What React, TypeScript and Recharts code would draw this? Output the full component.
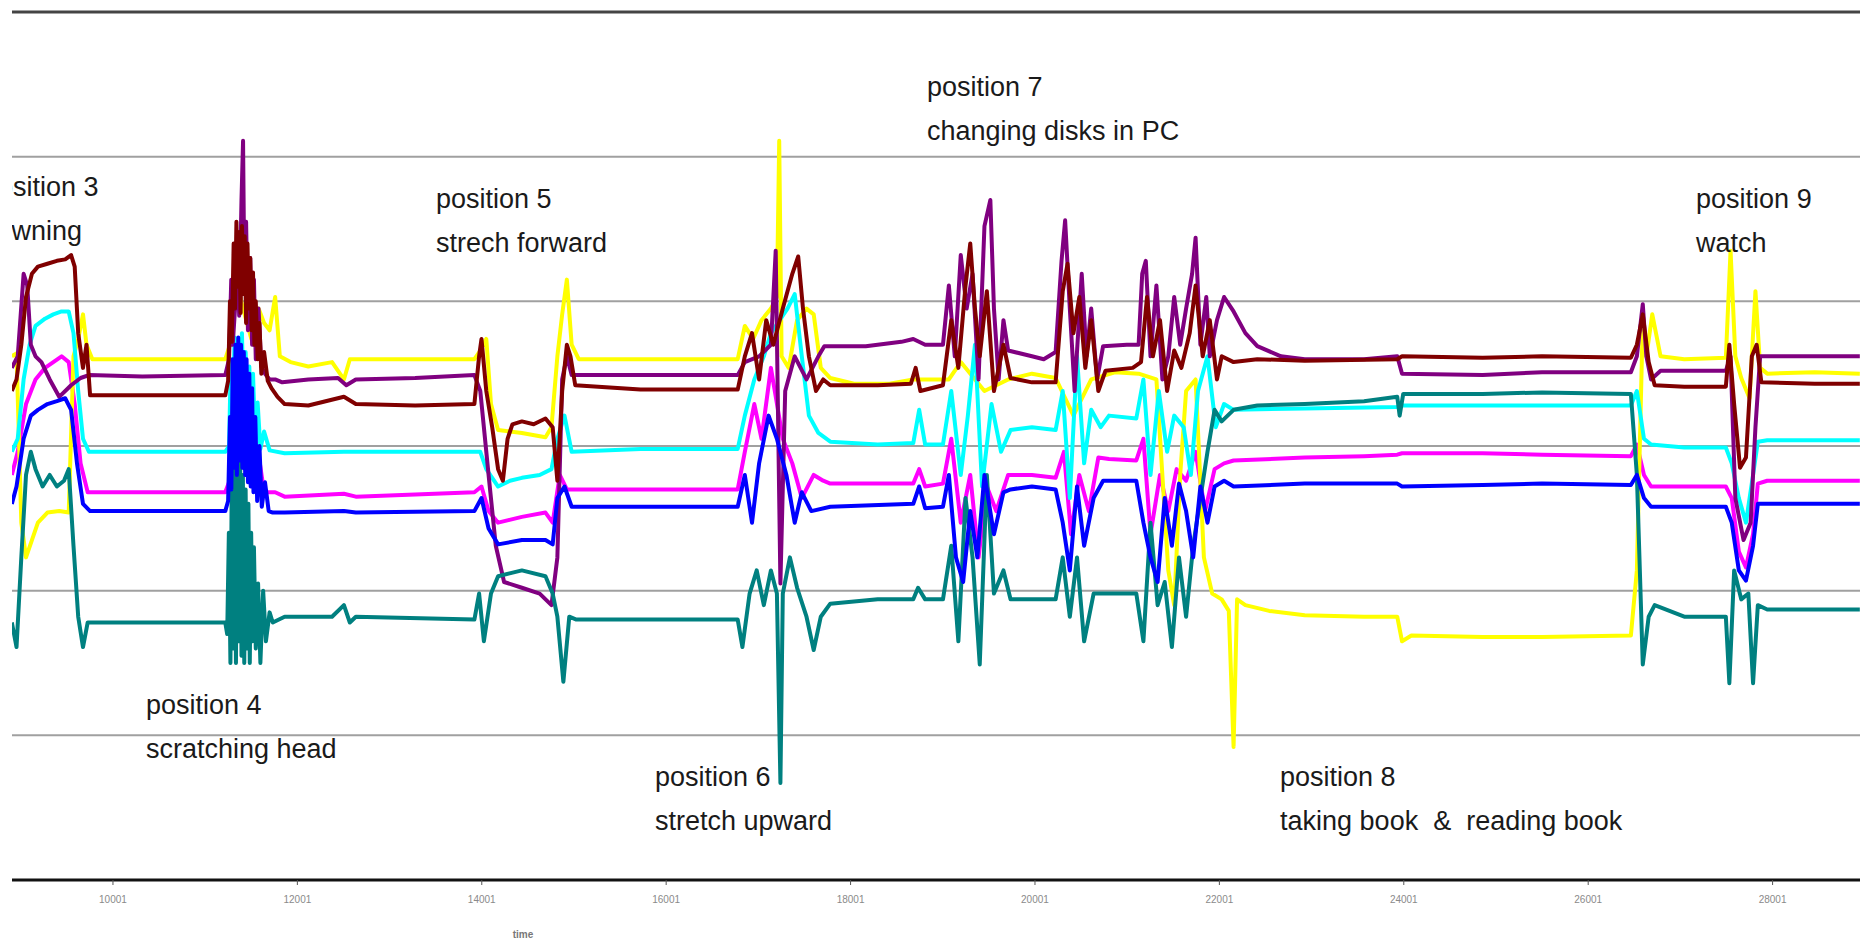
import { LineChart, Line, XAxis, YAxis, ReferenceLine, ReferenceDot } from "recharts";

type Pt = [number, number];

// sample index (time) vs sensor reading
const yellow: Pt[] = [
  [8904, 362], [8955, 364], [9007, 247], [9058, 223], [9122, 235], [9187, 247], [9290, 254], [9418, 255], [9521, 254],
  [9573, 362], [9624, 374], [9676, 391], [9714, 370], [9778, 360], [10319, 360], [11219, 360], [11271, 370], [11348, 411],
  [11412, 395], [11502, 374], [11580, 395], [11640, 385], [11700, 380], [11760, 403], [11811, 362], [11927, 358], [12120, 355],
  [12377, 358], [12506, 346], [12570, 360], [13020, 360], [13406, 360], [13921, 360], [13985, 366], [14050, 374], [14101, 329],
  [14178, 311], [14436, 309], [14692, 306], [14757, 313], [14821, 362], [14873, 391], [14924, 415], [14976, 370], [15053, 360],
  [15722, 360], [16494, 360], [16777, 360], [16854, 383], [16944, 374], [17035, 387], [17137, 395], [17202, 403], [17227, 511],
  [17253, 362], [17330, 354], [17421, 387], [17523, 395], [17601, 391], [17678, 354], [17781, 347], [18038, 343], [18424, 343],
  [18681, 346], [19067, 346], [19196, 358], [19453, 338], [19710, 346], [19968, 350], [20225, 347], [20418, 321], [20611, 346],
  [20868, 351], [21125, 350], [21318, 346], [21447, 214], [21511, 190], [21576, 280], [21640, 338], [21743, 346], [21833, 223],
  [21923, 198], [22026, 194], [22103, 186], [22155, 92], [22193, 194], [22283, 190], [22541, 186], [22927, 183], [23570, 182],
  [23930, 182], [23982, 165], [24084, 169], [24856, 168], [25500, 168], [26464, 169], [26529, 214], [26593, 387], [26632, 362],
  [26696, 391], [26786, 362], [27043, 360], [27494, 361], [27545, 435], [27597, 362], [27661, 347], [27751, 333], [27815, 407],
  [27866, 354], [27943, 350], [28458, 351], [28947, 350],
];

const purple: Pt[] = [
  [8904, 354], [8968, 362], [9032, 419], [9071, 411], [9110, 370], [9161, 362], [9225, 358], [9315, 346], [9418, 334],
  [9547, 342], [9650, 347], [9740, 349], [10319, 348], [11219, 349], [11260, 360], [11284, 415], [11300, 370], [11330, 400],
  [11350, 440], [11370, 390], [11395, 470], [11412, 511], [11425, 420], [11445, 455], [11465, 380], [11490, 430], [11510, 370],
  [11530, 415], [11550, 360], [11580, 395], [11610, 355], [11650, 350], [11700, 346], [11760, 346], [11837, 344], [12120, 346],
  [12442, 347], [12532, 342], [12635, 346], [13278, 347], [13921, 349], [13985, 338], [14075, 280], [14153, 231], [14243, 206],
  [14436, 202], [14629, 198], [14757, 190], [14821, 223], [14873, 346], [14924, 362], [14976, 349], [15722, 349], [16777, 349],
  [16854, 358], [17009, 362], [17137, 370], [17189, 435], [17240, 205], [17292, 338], [17395, 362], [17523, 346], [17652, 362],
  [17716, 369], [17845, 369], [18166, 369], [18552, 372], [18681, 374], [18810, 370], [19003, 370], [19067, 411], [19131, 362],
  [19196, 432], [19260, 395], [19324, 419], [19389, 346], [19453, 452], [19517, 470], [19556, 395], [19607, 346], [19659, 387],
  [19710, 366], [19968, 362], [20096, 360], [20225, 365], [20289, 428], [20328, 456], [20379, 395], [20431, 338], [20508, 419],
  [20560, 362], [20611, 395], [20675, 346], [20740, 369], [20997, 370], [21125, 370], [21164, 419], [21203, 428], [21254, 362],
  [21318, 411], [21383, 346], [21447, 362], [21511, 403], [21576, 370], [21640, 395], [21705, 419], [21743, 444], [21795, 370],
  [21859, 403], [21897, 362], [21975, 387], [22052, 403], [22155, 393], [22283, 378], [22412, 369], [22669, 362], [22927, 360],
  [23570, 360], [23930, 362], [23982, 350], [24856, 349], [25500, 351], [26464, 351], [26529, 362], [26593, 398], [26632, 362],
  [26683, 346], [26786, 352], [27494, 352], [27545, 362], [27597, 264], [27686, 235], [27763, 247], [27815, 313], [27866, 362],
  [27943, 362], [28458, 362], [28947, 362],
];

const maroon: Pt[] = [
  [8904, 338], [8955, 346], [9007, 370], [9058, 403], [9122, 419], [9187, 424], [9290, 426], [9393, 428], [9483, 429],
  [9547, 432], [9586, 424], [9624, 378], [9676, 354], [9714, 370], [9753, 335], [10319, 335], [11219, 335], [11250, 345],
  [11270, 400], [11290, 372], [11310, 440], [11325, 395], [11340, 455], [11355, 410], [11370, 448], [11385, 392], [11400, 452],
  [11415, 405], [11430, 445], [11445, 385], [11460, 440], [11475, 395], [11490, 430], [11505, 380], [11520, 420], [11535, 370],
  [11550, 400], [11570, 360], [11590, 385], [11610, 350], [11640, 365], [11680, 345], [11720, 340], [11786, 334], [11863, 329],
  [12120, 328], [12506, 334], [12635, 329], [13278, 328], [13921, 329], [13972, 362], [13998, 374], [14050, 338], [14114, 313],
  [14178, 284], [14230, 276], [14281, 305], [14333, 315], [14436, 317], [14564, 315], [14692, 319], [14770, 313], [14821, 276],
  [14873, 338], [14924, 370], [14963, 362], [15015, 342], [15722, 339], [16777, 339], [16854, 362], [16932, 378], [17009, 346],
  [17086, 387], [17163, 370], [17266, 395], [17369, 419], [17433, 431], [17485, 395], [17549, 362], [17626, 338], [17704, 346],
  [17781, 342], [18295, 342], [18655, 343], [18707, 354], [18758, 338], [19003, 342], [19093, 387], [19170, 354], [19248, 411],
  [19299, 440], [19350, 395], [19402, 362], [19479, 407], [19556, 338], [19659, 370], [19736, 347], [19968, 344], [20225, 344],
  [20302, 407], [20354, 426], [20418, 378], [20482, 403], [20547, 354], [20611, 387], [20688, 338], [20766, 352], [21061, 354],
  [21151, 358], [21216, 403], [21280, 362], [21357, 387], [21434, 338], [21511, 366], [21589, 354], [21679, 378], [21743, 411],
  [21820, 362], [21897, 387], [21975, 346], [22026, 362], [22155, 358], [22412, 360], [22927, 359], [23930, 360], [23982, 362],
  [24856, 361], [25500, 362], [26464, 361], [26529, 370], [26593, 391], [26657, 358], [26722, 342], [27043, 341], [27494, 341],
  [27532, 370], [27584, 329], [27648, 285], [27712, 292], [27776, 362], [27828, 370], [27879, 344], [28458, 343], [28947, 343],
];

const cyan: Pt[] = [
  [8904, 296], [8968, 305], [9032, 346], [9097, 370], [9161, 383], [9264, 388], [9354, 391], [9444, 393], [9521, 393],
  [9573, 378], [9624, 338], [9676, 305], [9740, 296], [10319, 296], [11219, 296], [11260, 300], [11280, 360], [11300, 320],
  [11320, 375], [11340, 310], [11360, 370], [11380, 315], [11400, 378], [11420, 320], [11440, 365], [11460, 310], [11480, 355],
  [11500, 305], [11520, 350], [11545, 300], [11570, 330], [11600, 298], [11640, 310], [11700, 297], [11863, 295], [12506, 296],
  [12635, 296], [13921, 296], [13985, 296], [14050, 284], [14178, 272], [14307, 276], [14436, 278], [14629, 280], [14757, 284],
  [14821, 305], [14898, 321], [14976, 296], [15722, 298], [16777, 298], [16854, 321], [16957, 346], [17060, 362], [17137, 378],
  [17317, 395], [17395, 405], [17472, 362], [17549, 321], [17652, 309], [17781, 303], [18295, 301], [18681, 302], [18745, 325],
  [18810, 301], [19003, 301], [19093, 338], [19196, 280], [19273, 321], [19350, 370], [19427, 272], [19530, 329], [19633, 296],
  [19736, 311], [19968, 313], [20225, 311], [20302, 338], [20379, 264], [20457, 362], [20534, 288], [20611, 325], [20714, 313],
  [20804, 321], [21100, 319], [21177, 346], [21254, 280], [21344, 338], [21434, 296], [21511, 321], [21614, 313], [21692, 280],
  [21769, 338], [21872, 362], [21962, 313], [22052, 329], [22155, 325], [22927, 326], [23930, 327], [23982, 328], [24856, 328],
  [25500, 328], [26464, 328], [26529, 338], [26606, 305], [26683, 301], [27043, 299], [27494, 299], [27558, 288], [27635, 264],
  [27712, 247], [27789, 280], [27841, 303], [27943, 304], [28947, 304],
];

const magenta: Pt[] = [
  [8904, 280], [8968, 296], [9058, 329], [9161, 346], [9264, 354], [9354, 358], [9444, 362], [9521, 358], [9586, 329],
  [9650, 288], [9727, 268], [10319, 268], [11219, 268], [11260, 275], [11280, 320], [11300, 285], [11320, 335], [11345, 290],
  [11370, 340], [11395, 285], [11420, 330], [11445, 280], [11470, 325], [11495, 275], [11520, 310], [11550, 272], [11590, 290],
  [11640, 268], [11760, 268], [11863, 265], [12506, 267], [12635, 265], [13921, 268], [13998, 272], [14075, 255], [14178, 247],
  [14436, 251], [14692, 254], [14770, 247], [14847, 280], [14924, 270], [15722, 270], [16777, 270], [16854, 296], [16957, 329],
  [17035, 305], [17137, 354], [17266, 305], [17369, 288], [17472, 264], [17601, 280], [17704, 276], [17781, 274], [18681, 274],
  [18745, 284], [18810, 272], [19003, 274], [19093, 305], [19196, 247], [19299, 280], [19389, 223], [19479, 272], [19581, 255],
  [19710, 280], [19968, 280], [20225, 278], [20315, 296], [20392, 239], [20482, 280], [20585, 255], [20688, 292], [20804, 291],
  [21100, 290], [21177, 305], [21254, 239], [21357, 280], [21447, 255], [21537, 284], [21640, 276], [21743, 296], [21846, 255],
  [21949, 284], [22052, 288], [22155, 290], [22927, 292], [23570, 293], [23930, 294], [23982, 295], [24856, 295], [25500, 294],
  [26464, 293], [26529, 301], [26606, 280], [26683, 272], [27043, 272], [27494, 272], [27558, 264], [27635, 227], [27712, 216],
  [27789, 239], [27841, 274], [27943, 276], [28947, 276],
];

const blue: Pt[] = [
  [8904, 260], [8955, 272], [9032, 305], [9110, 321], [9187, 325], [9290, 329], [9393, 331], [9483, 333], [9547, 325],
  [9611, 288], [9676, 260], [9753, 255], [10319, 255], [11219, 255], [11250, 262], [11270, 320], [11285, 270], [11300, 360],
  [11315, 285], [11330, 370], [11345, 280], [11360, 375], [11375, 290], [11390, 370], [11405, 285], [11420, 365], [11435, 280],
  [11450, 360], [11465, 275], [11480, 350], [11495, 272], [11510, 340], [11525, 268], [11545, 320], [11565, 262], [11590, 300],
  [11615, 258], [11650, 275], [11690, 255], [11734, 254], [11863, 254], [12506, 255], [12635, 254], [13921, 255], [13998, 264],
  [14075, 243], [14178, 232], [14436, 235], [14692, 235], [14770, 232], [14821, 264], [14898, 272], [14976, 258], [15722, 258],
  [16777, 258], [16854, 280], [16932, 247], [17009, 288], [17112, 321], [17202, 305], [17305, 280], [17395, 247], [17472, 268],
  [17575, 255], [17781, 258], [18681, 260], [18745, 272], [18810, 257], [19003, 258], [19067, 280], [19144, 223], [19222, 206],
  [19299, 255], [19376, 223], [19453, 280], [19556, 239], [19659, 268], [19736, 270], [19968, 272], [20225, 270], [20302, 247],
  [20379, 214], [20457, 272], [20534, 231], [20637, 264], [20740, 276], [21100, 276], [21177, 247], [21254, 223], [21331, 206],
  [21408, 264], [21486, 231], [21563, 274], [21640, 255], [21717, 223], [21795, 272], [21872, 247], [21949, 272], [22052, 276],
  [22155, 272], [22927, 274], [23930, 274], [23982, 272], [24856, 273], [25500, 274], [26464, 273], [26529, 280], [26606, 264],
  [26683, 258], [27043, 258], [27494, 258], [27558, 247], [27635, 214], [27712, 207], [27789, 231], [27841, 260], [27943, 260],
  [28947, 260],
];

const teal: Pt[] = [
  [8904, 178], [8955, 161], [9007, 223], [9058, 280], [9110, 296], [9161, 284], [9238, 272], [9315, 280], [9393, 272],
  [9470, 276], [9521, 284], [9573, 231], [9624, 182], [9676, 161], [9727, 178], [10319, 178], [11219, 178], [11240, 170],
  [11258, 240], [11275, 150], [11290, 280], [11305, 160], [11320, 290], [11335, 150], [11350, 285], [11365, 165], [11380, 295],
  [11395, 155], [11410, 280], [11425, 150], [11440, 270], [11455, 160], [11470, 260], [11485, 150], [11500, 240], [11515, 165],
  [11530, 230], [11550, 160], [11575, 205], [11600, 150], [11630, 200], [11660, 165], [11700, 185], [11734, 178], [11863, 182],
  [12377, 182], [12506, 190], [12570, 178], [12635, 182], [13921, 180], [13972, 198], [14024, 165], [14101, 198], [14178, 210],
  [14436, 214], [14692, 210], [14770, 198], [14821, 182], [14886, 137], [14950, 182], [15027, 180], [15722, 180], [16777, 180],
  [16828, 161], [16906, 198], [16983, 214], [17060, 190], [17137, 214], [17202, 198], [17240, 67], [17266, 198], [17343, 223],
  [17421, 202], [17523, 182], [17601, 159], [17678, 182], [17781, 191], [18295, 194], [18681, 194], [18733, 202], [18810, 194],
  [19003, 194], [19093, 231], [19170, 165], [19248, 264], [19324, 223], [19402, 149], [19479, 280], [19556, 198], [19659, 214],
  [19736, 194], [19968, 194], [20225, 194], [20302, 223], [20379, 182], [20457, 223], [20534, 165], [20637, 198], [20740, 198],
  [21100, 198], [21177, 165], [21254, 247], [21331, 190], [21408, 206], [21486, 161], [21563, 223], [21640, 182], [21717, 231],
  [21795, 264], [21872, 296], [21949, 325], [22026, 317], [22155, 325], [22412, 328], [22927, 329], [23570, 331], [23930, 334],
  [23956, 321], [23995, 336], [24856, 336], [25500, 337], [26464, 336], [26529, 280], [26593, 149], [26657, 182], [26722, 190],
  [27043, 182], [27494, 182], [27532, 136], [27584, 214], [27661, 194], [27738, 198], [27789, 136], [27841, 190], [27943, 187],
  [28947, 187],
];

const timeTicks = [10001, 12001, 14001, 16001, 18001, 20001, 22001, 24001, 26001, 28001];
const gridValues = [100, 200, 300, 400, 500];

const notes = [
  { t: 8591, v: 479, lines: ["position 3", "yawning"] },
  { t: 10359, v: 121, lines: ["position 4", "scratching head"] },
  { t: 13505, v: 471, lines: ["position 5", "strech forward"] },
  { t: 15880, v: 71, lines: ["position 6", "stretch upward"] },
  { t: 18830, v: 548, lines: ["position 7", "changing disks in PC"] },
  { t: 22659, v: 71, lines: ["position 8", "taking book  &  reading book"] },
  { t: 27171, v: 471, lines: ["position 9", "watch"] },
];

// drawn in this order, last on top
const series = [
  { key: "magenta", color: "#ff00ff", points: magenta },
  { key: "yellow", color: "#ffff00", points: yellow },
  { key: "cyan", color: "#00ffff", points: cyan },
  { key: "purple", color: "#800080", points: purple },
  { key: "maroon", color: "#800000", points: maroon },
  { key: "teal", color: "#008080", points: teal },
  { key: "blue", color: "#0000ff", points: blue },
];

const font = "'Liberation Sans', Arial, sans-serif";

function NoteText({ cx, cy, lines }: { cx: number; cy: number; lines: string[] }) {
  return (
    <g>
      {lines.map((s, i) => (
        <text
          key={i}
          x={cx}
          y={cy + i * 44}
          dominantBaseline="central"
          fontFamily={font}
          fontSize={27}
          fill="#1a1a1a"
          style={{ whiteSpace: "pre" }}
        >
          {s}
        </text>
      ))}
    </g>
  );
}

export default function App() {
  return (
    <div style={{ position: "absolute", left: 12, top: 0, width: 1848, height: 945, overflow: "hidden", background: "#fff" }}>
      <LineChart width={1848} height={945} margin={{ top: 12, right: 0, bottom: 0, left: 0 }}>
        <XAxis
          dataKey="t"
          type="number"
          domain={[8906, 28949]}
          allowDataOverflow
          ticks={timeTicks}
          interval={0}
          height={65}
          axisLine={{ stroke: "#111", strokeWidth: 3 }}
          tickLine={{ stroke: "#555" }}
          tickSize={5}
          tickMargin={11}
          tick={{ fontSize: 10, fill: "#8a8a8a", fontFamily: font }}
        />
        <YAxis hide type="number" domain={[0, 600]} allowDataOverflow />
        {gridValues.map((g) => (
          <ReferenceLine key={g} y={g} stroke="#a0a0a0" strokeWidth={2} />
        ))}
        <ReferenceLine y={600} stroke="#444" strokeWidth={3} />
        {series.map((s) => (
          <Line
            key={s.key}
            data={s.points.map(([t, v]) => ({ t, v }))}
            dataKey="v"
            stroke={s.color}
            strokeWidth={4}
            strokeLinejoin="round"
            dot={false}
            activeDot={false}
            isAnimationActive={false}
          />
        ))}
        {notes.map((n) => (
          <ReferenceDot
            key={n.lines[0]}
            x={n.t}
            y={n.v}
            r={0}
            ifOverflow="visible"
            shape={(p: any) => <NoteText cx={p.cx} cy={p.cy} lines={n.lines} />}
          />
        ))}
        <ReferenceDot
          x={14448}
          y={-38}
          r={0}
          ifOverflow="visible"
          shape={(p: any) => (
            <text x={p.cx} y={p.cy} textAnchor="middle" dominantBaseline="central" fontFamily={font} fontSize={10} fontWeight="bold" fill="#777">
              time
            </text>
          )}
        />
      </LineChart>
    </div>
  );
}
